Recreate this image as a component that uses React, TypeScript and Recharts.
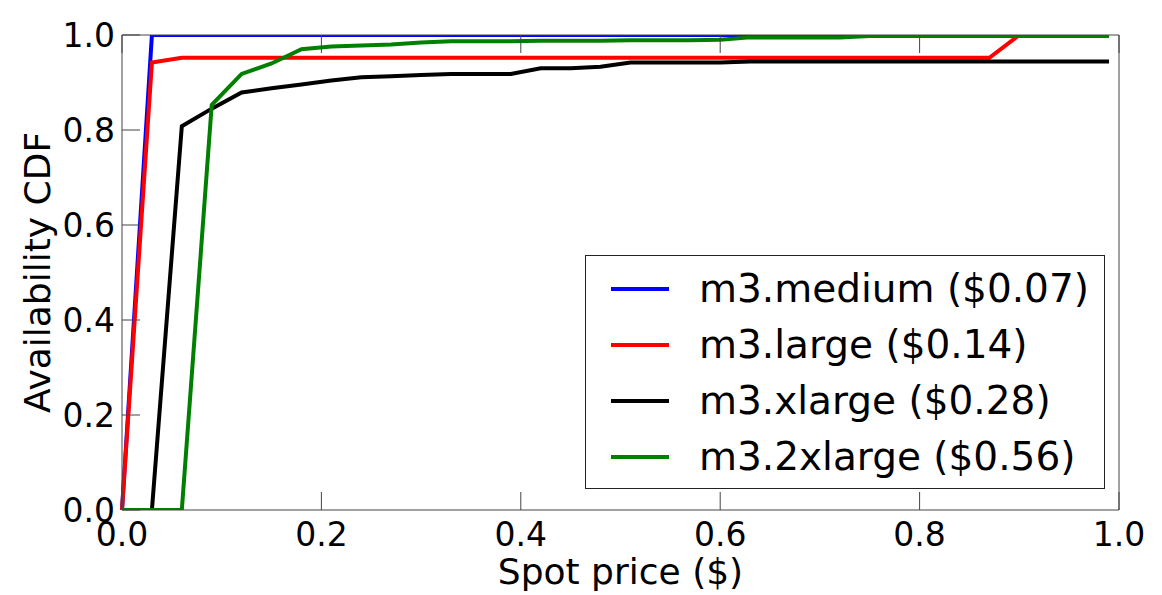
import { LineChart, Line, XAxis, YAxis, Legend } from 'recharts';

// spot price grid ($), sampled every 3 cents
const prices = [
  0, 0.03, 0.06, 0.09, 0.12, 0.15, 0.18, 0.21, 0.24, 0.27, 0.3, 0.33, 0.36, 0.39, 0.42, 0.45, 0.48,
  0.51, 0.54, 0.57, 0.6, 0.63, 0.66, 0.69, 0.72, 0.75, 0.78, 0.81, 0.84, 0.87, 0.9, 0.93, 0.96, 0.99,
];

const medium = [
  0, 1, 1, 1, 1, 1, 1, 1, 1, 1, 1, 1, 1, 1, 1, 1, 1,
  1, 1, 1, 1, 1, 1, 1, 1, 1, 1, 1, 1, 1, 1, 1, 1, 1,
];

const large = [
  0, 0.942, 0.952, 0.952, 0.952, 0.952, 0.952, 0.952, 0.952, 0.952, 0.952, 0.952, 0.952, 0.952, 0.952, 0.952, 0.952,
  0.952, 0.952, 0.952, 0.952, 0.952, 0.952, 0.952, 0.952, 0.952, 0.952, 0.952, 0.952, 0.952, 1, 1, 1, 1,
];

const xlarge = [
  0, 0, 0.808, 0.845, 0.879, 0.888, 0.896, 0.904, 0.911, 0.913, 0.916, 0.918, 0.918, 0.918, 0.93, 0.93, 0.933,
  0.942, 0.942, 0.942, 0.942, 0.944, 0.944, 0.944, 0.944, 0.944, 0.944, 0.944, 0.944, 0.944, 0.944, 0.944, 0.944, 0.944,
];

const xlarge2 = [
  0, 0, 0, 0.853, 0.918, 0.94, 0.97, 0.976, 0.978, 0.98, 0.984, 0.987, 0.987, 0.987, 0.988, 0.988, 0.988,
  0.989, 0.989, 0.989, 0.99, 0.995, 0.995, 0.995, 0.995, 0.998, 0.998, 0.998, 0.998, 0.998, 0.998, 0.998, 0.998, 0.998,
];

const ticks = [0, 0.2, 0.4, 0.6, 0.8, 1.0];

const series = [
  { key: 'medium', name: 'm3.medium ($0.07)', color: '#0000ff', values: medium },
  { key: 'large', name: 'm3.large ($0.14)', color: '#ff0000', values: large },
  { key: 'xlarge', name: 'm3.xlarge ($0.28)', color: '#000000', values: xlarge },
  { key: 'xlarge2', name: 'm3.2xlarge ($0.56)', color: '#008000', values: xlarge2 },
];

const data = prices.map((p, i) => {
  const row: Record<string, number> = { price: p };
  series.forEach((s) => {
    row[s.key] = s.values[i];
  });
  return row;
});

const FONT = '"DejaVu Sans", sans-serif';
const FRAME = '#444';
const TICK_LEN = 18;

const fmt = (v: number) => v.toFixed(1);

function LeftTick(props: any) {
  const { x, y, payload } = props;
  return (
    <g>
      <line x1={x + 7} x2={x + 7 + TICK_LEN} y1={y} y2={y} stroke={FRAME} strokeWidth={1} />
      <text x={x} y={y} dy="0.36em" textAnchor="end" fontSize={33} fontFamily={FONT} fill="#000">
        {fmt(payload.value)}
      </text>
    </g>
  );
}

function BottomTick(props: any) {
  const { x, y, payload } = props;
  return (
    <g>
      <line x1={x} x2={x} y1={y - 36} y2={y - 36 - TICK_LEN} stroke={FRAME} strokeWidth={1} />
      <text x={x} y={y} textAnchor="middle" fontSize={33} fontFamily={FONT} fill="#000">
        {fmt(payload.value)}
      </text>
    </g>
  );
}

function RightTick(props: any) {
  const { x, y } = props;
  return <line x1={x} x2={x - TICK_LEN} y1={y} y2={y} stroke={FRAME} strokeWidth={1} />;
}

function TopTick(props: any) {
  const { x, y } = props;
  return <line x1={x} x2={x} y1={y} y2={y + TICK_LEN} stroke={FRAME} strokeWidth={1} />;
}

function renderLegend(props: any) {
  // keep the plotting order, not recharts' alphabetical one
  const order = series.map((s) => s.name);
  const payload = [...(props.payload || [])].sort(
    (a: any, b: any) => order.indexOf(a.value) - order.indexOf(b.value)
  );
  return (
    <div
      style={{
        border: '1px solid #222',
        background: '#fff',
        width: 520,
        height: 234,
        boxSizing: 'border-box',
        paddingTop: 5,
        fontFamily: FONT,
      }}
    >
      {payload.map((entry: any) => (
        <div key={entry.value} style={{ height: 56, display: 'flex', alignItems: 'center' }}>
          <svg width={113} height={56} style={{ display: 'block', flex: 'none' }}>
            <line x1={25} x2={83} y1={28} y2={28} stroke={entry.color} strokeWidth={4} />
          </svg>
          <span style={{ fontSize: 39, lineHeight: '56px', color: '#000', whiteSpace: 'nowrap' }}>{entry.value}</span>
        </div>
      ))}
    </div>
  );
}

export default function App() {
  return (
    <div style={{ position: 'absolute', left: 0, top: 0, width: 1162, height: 595, background: '#fff' }}>
      <LineChart width={1162} height={595} data={data} margin={{ top: 34, right: 42, left: 0, bottom: 0 }}>
        <XAxis
          xAxisId="bottom"
          dataKey="price"
          type="number"
          domain={[0, 1]}
          ticks={ticks}
          height={85}
          axisLine={{ stroke: FRAME, strokeWidth: 1 }}
          tickLine={false}
          tickSize={0}
          tickMargin={36}
          tick={<BottomTick />}
          interval={0}
          label={{
            content: (p: any) => {
              const vb = p.viewBox;
              return (
                <text x={vb.x + vb.width / 2} y={vb.y + 74} textAnchor="middle" fontSize={36} fontFamily={FONT} fill="#000">
                  Spot price ($)
                </text>
              );
            },
          }}
        />
        <XAxis
          xAxisId="top"
          orientation="top"
          dataKey="price"
          type="number"
          domain={[0, 1]}
          ticks={ticks}
          height={1}
          axisLine={{ stroke: FRAME, strokeWidth: 1 }}
          tickLine={false}
          tickSize={0}
          tickMargin={0}
          tick={<TopTick />}
          interval={0}
        />
        <YAxis
          yAxisId="left"
          type="number"
          domain={[0, 1]}
          ticks={ticks}
          width={122}
          allowDataOverflow
          axisLine={{ stroke: FRAME, strokeWidth: 1 }}
          tickLine={false}
          tickSize={0}
          tickMargin={7}
          tick={<LeftTick />}
          interval={0}
          label={{
            content: (p: any) => {
              const vb = p.viewBox;
              const cy = vb.y + vb.height / 2;
              return (
                <text
                  x={50}
                  y={cy}
                  transform={`rotate(-90, 50, ${cy})`}
                  textAnchor="middle"
                  fontSize={36}
                  fontFamily={FONT}
                  fill="#000"
                >
                  Availability CDF
                </text>
              );
            },
          }}
        />
        <YAxis
          yAxisId="right"
          orientation="right"
          type="number"
          domain={[0, 1]}
          ticks={ticks}
          width={1}
          axisLine={{ stroke: FRAME, strokeWidth: 1 }}
          tickLine={false}
          tickSize={0}
          tickMargin={0}
          tick={<RightTick />}
          interval={0}
        />
        <Legend
          layout="vertical"
          align="center"
          verticalAlign="middle"
          content={renderLegend}
          wrapperStyle={{ position: 'absolute', left: 585, top: 255, width: 521, height: 235 }}
        />
        {series.map((s) => (
          <Line
            key={s.key}
            xAxisId="bottom"
            yAxisId="left"
            type="linear"
            dataKey={s.key}
            name={s.name}
            stroke={s.color}
            strokeWidth={4}
            dot={false}
            activeDot={false}
            isAnimationActive={false}
          />
        ))}
      </LineChart>
    </div>
  );
}
